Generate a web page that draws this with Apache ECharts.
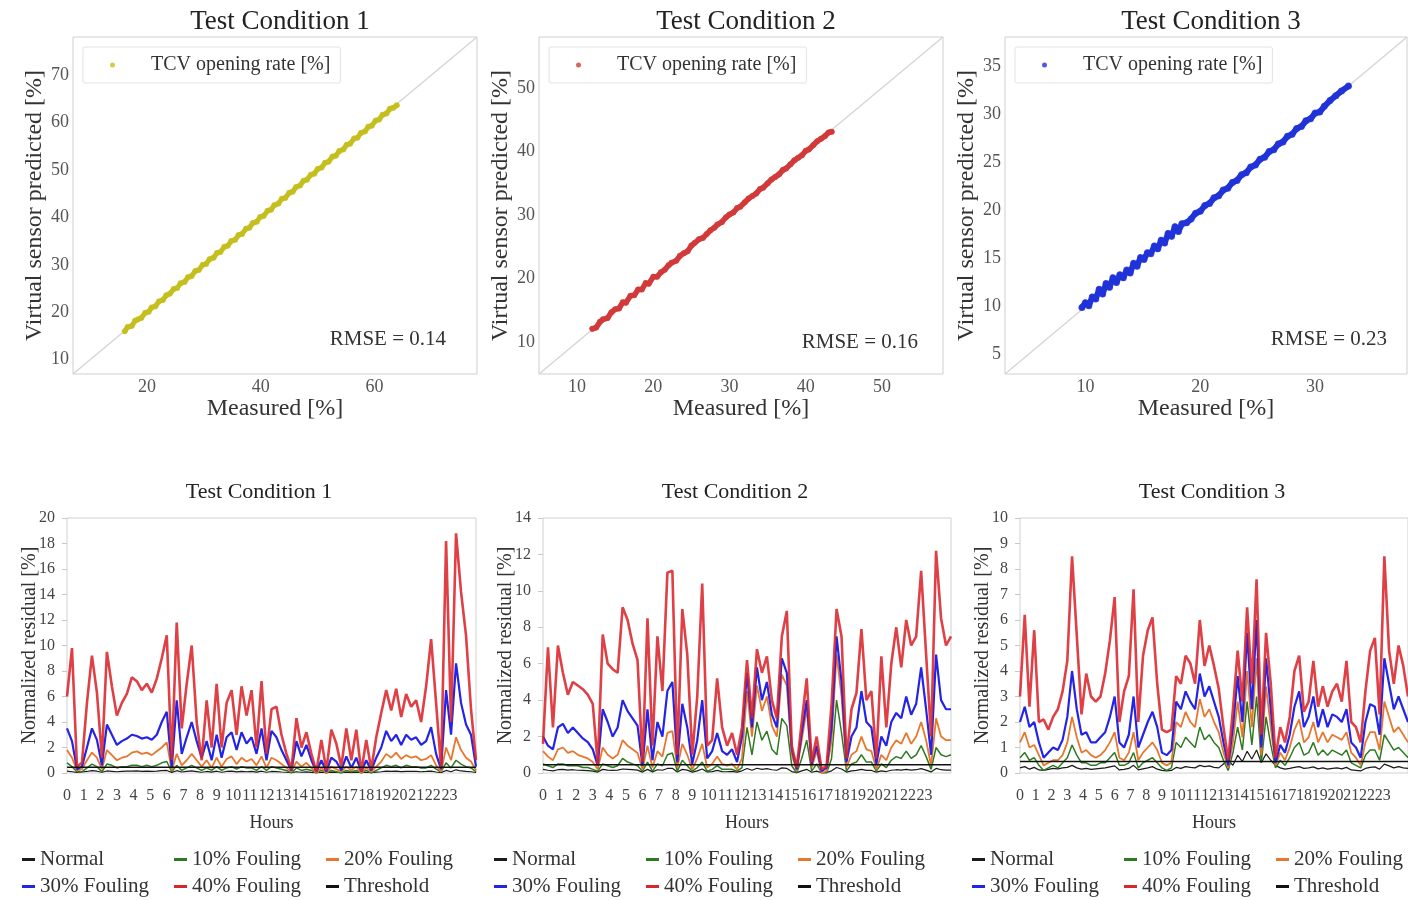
<!DOCTYPE html>
<html><head><meta charset="utf-8">
<script src="https://cdn.jsdelivr.net/npm/echarts@6/dist/echarts.min.js"></script>
<style>html,body{margin:0;padding:0;background:#fff}#c{width:1408px;height:900px}</style>
</head><body><div id="c"></div>
<script>
// ---------------- DATA ----------------
const panelTitles = ['Test Condition 1', 'Test Condition 2', 'Test Condition 3'];
const rmseTexts = ['RMSE = 0.14', 'RMSE = 0.16', 'RMSE = 0.23'];
const scatterLegendText = 'TCV opening rate [%]';

// Top row: measured vs predicted
const tc1Measured = [16.1,16.6,17.3,17.9,18.4,19.0,19.7,20.3,20.8,21.5,22.1,22.8,23.4,24.0,24.7,25.3,25.9,26.6,27.2,27.8,28.5,29.1,29.8,30.4,31.0,31.7,32.3,32.9,33.6,34.2,34.8,35.5,36.1,36.7,37.4,38.0,38.6,39.3,39.9,40.5,41.2,41.8,42.4,43.1,43.7,44.3,45.0,45.6,46.2,46.9,47.5,48.1,48.8,49.4,50.0,50.7,51.3,51.9,52.6,53.2,53.8,54.5,55.1,55.7,56.4,57.0,57.6,58.3,58.9,59.5,60.2,60.8,61.4,62.1,62.7,63.3,63.9];
const tc1Predicted = [16.0,16.9,17.1,18.2,18.5,18.8,19.9,20.1,21.0,21.3,22.3,22.6,23.6,23.9,24.9,25.1,26.1,26.4,27.4,27.6,28.7,28.9,30.0,30.2,31.2,31.5,32.5,32.7,33.8,34.0,35.0,35.3,36.3,36.5,37.6,37.8,38.8,39.1,40.1,40.3,41.4,41.6,42.6,42.9,43.9,44.1,45.2,45.4,46.4,46.7,47.7,47.9,49.0,49.2,50.2,50.5,51.5,51.7,52.8,53.0,54.0,54.3,55.3,55.5,56.6,56.8,57.8,58.1,59.1,59.3,60.4,60.6,61.6,61.9,62.9,63.1,63.6];
const tc2Measured = [12.0,12.5,13.0,13.4,14.0,14.5,15.0,15.5,16.0,16.4,17.0,17.5,18.0,18.5,19.0,19.4,20.0,20.5,21.0,21.5,22.0,22.4,23.0,23.5,24.0,24.5,25.0,25.4,26.0,26.5,27.0,27.5,28.0,28.4,29.0,29.5,30.0,30.5,31.0,31.4,32.0,32.5,33.0,33.5,34.0,34.4,35.0,35.5,36.0,36.5,37.0,37.4,38.0,38.5,39.0,39.5,40.0,40.4,41.0,41.5,42.0,42.5,43.0,43.4];
const tc2Predicted = [12.1,12.3,13.2,13.6,13.8,14.7,15.2,15.3,16.3,16.2,17.3,17.4,18.3,18.3,19.3,19.2,20.3,20.3,21.0,21.4,22.1,22.5,22.8,23.6,24.0,24.3,25.2,25.6,26.2,26.4,27.0,27.6,28.0,28.5,28.9,29.6,30.1,30.4,31.1,31.3,32.0,32.6,33.0,33.4,34.1,34.3,35.0,35.6,36.0,36.4,37.1,37.3,38.0,38.6,39.0,39.4,40.1,40.3,41.0,41.6,42.0,42.4,43.0,43.1];
const tc3Measured = [9.7,10.0,10.3,10.6,10.9,11.2,11.5,11.8,12.1,12.4,12.7,13.0,13.3,13.6,13.9,14.2,14.5,14.8,15.1,15.4,15.7,16.0,16.3,16.6,16.9,17.2,17.5,17.8,18.1,18.4,18.8,19.2,19.6,20.0,20.4,20.8,21.2,21.6,22.0,22.4,22.8,23.2,23.6,24.0,24.4,24.8,25.2,25.6,26.0,26.4,26.8,27.2,27.6,28.0,28.4,28.8,29.2,29.6,30.0,30.4,30.8,31.3,31.8,32.3,32.9];
const tc3Predicted = [9.9,10.4,10.1,11.0,10.8,11.8,11.3,12.4,12.0,13.0,12.5,13.3,13.0,13.8,13.5,14.5,14.2,15.1,14.9,15.6,15.5,16.3,16.0,16.9,16.6,17.6,17.3,18.3,17.8,18.6,18.7,19.1,19.7,19.9,20.5,20.7,21.3,21.5,22.1,22.3,22.9,23.1,23.7,23.9,24.5,24.7,25.3,25.5,26.1,26.3,26.9,27.1,27.7,27.9,28.5,28.7,29.3,29.5,30.1,30.2,30.8,31.4,31.9,32.4,32.9];

const topLimits = [[7, 78], [5, 58], [3, 38]];
const topXTicks = [[20, 40, 60], [10, 20, 30, 40, 50], [10, 20, 30]];
const topYTicks = [[10, 20, 30, 40, 50, 60, 70], [10, 20, 30, 40, 50], [5, 10, 15, 20, 25, 30, 35]];

// Bottom row: normalized residuals, one value every HOUR_STEP hours
const HOUR_STEP = 0.3;
const hourTicks = [0,1,2,3,4,5,6,7,8,9,10,11,12,13,14,15,16,17,18,19,20,21,22,23];
const hourMax = 24.6;
const residualMax = [20, 14, 10];
const residualInterval = [2, 2, 1];
const thresholdValue = 0.45;
const seriesNames = ['Normal', '10% Fouling', '20% Fouling', '30% Fouling', '40% Fouling', 'Threshold'];

const tc1Normal = [0.15,0.10,0.05,0.08,0.12,0.18,0.14,0.06,0.16,0.13, 0.10,0.12,0.14,0.15,0.16,0.13,0.15,0.12,0.14,0.18, 0.20,0.05,0.18,0.08,0.12,0.16,0.11,0.06,0.12,0.07, 0.14,0.06,0.12,0.14,0.09,0.13,0.10,0.12,0.07,0.14, 0.06,0.12,0.11,0.08,0.06,0.03,0.10,0.06,0.09,0.05, 0.02,0.06,0.02,0.07,0.05,0.02,0.07,0.03,0.07,0.02, 0.06,0.03,0.07,0.10,0.14,0.12,0.14,0.11,0.13,0.12, 0.13,0.10,0.12,0.15,0.08,0.03,0.20,0.10,0.25,0.16, 0.12,0.10,0.04];
const tc1Foul10 = [0.8,0.5,0.1,0.1,0.4,0.7,0.5,0.1,0.7,0.6, 0.4,0.5,0.5,0.6,0.6,0.5,0.6,0.5,0.6,0.8, 0.9,0.1,0.6,0.2,0.4,0.6,0.4,0.2,0.4,0.2, 0.5,0.2,0.4,0.5,0.3,0.5,0.4,0.4,0.2,0.5, 0.2,0.5,0.4,0.3,0.2,0.0,0.4,0.2,0.3,0.2, 0.0,0.2,0.0,0.2,0.1,0.0,0.2,0.1,0.2,0.0, 0.2,0.0,0.2,0.4,0.6,0.5,0.6,0.4,0.6,0.5, 0.5,0.4,0.4,0.6,0.3,0.1,0.8,0.4,1.0,0.7, 0.5,0.4,0.1];
const tc1Foul20 = [1.8,1.2,0.2,0.3,1.0,1.6,1.2,0.3,1.8,1.4, 1.0,1.2,1.3,1.6,1.7,1.5,1.6,1.4,1.7,2.0, 2.4,0.2,1.5,0.6,1.0,1.5,1.0,0.5,1.0,0.4, 1.2,0.5,1.1,1.3,0.7,1.2,0.9,1.1,0.6,1.3, 0.4,1.2,1.0,0.7,0.4,0.1,0.9,0.5,0.8,0.4, 0.0,0.4,0.0,0.5,0.3,0.1,0.5,0.2,0.5,0.0, 0.4,0.1,0.5,0.9,1.5,1.2,1.6,1.1,1.4,1.2, 1.3,1.0,1.1,1.4,0.6,0.1,2.0,1.0,2.8,1.8, 1.2,0.9,0.2];
const tc1Foul30 = [3.5,2.5,0.3,0.5,2.0,3.5,2.6,0.6,3.8,3.0, 2.2,2.5,2.7,3.0,2.9,2.7,2.8,2.6,3.0,4.0, 4.8,0.4,5.7,1.5,2.8,4.0,2.5,1.2,2.5,1.0, 3.0,1.2,2.8,3.2,1.8,3.2,2.3,2.8,1.5,3.5, 1.0,3.3,2.8,1.8,1.0,0.2,2.5,1.3,2.2,1.0, 0.1,1.0,0.1,1.2,0.9,0.2,1.3,0.4,1.2,0.1, 1.0,0.2,1.2,2.0,3.3,2.5,3.0,2.2,3.0,2.6, 2.8,2.2,2.5,3.6,1.5,0.3,6.5,3.0,8.6,5.5, 3.8,3.0,0.5];
const tc1Foul40 = [6.0,9.8,0.5,0.8,5.5,9.2,6.3,1.2,9.5,6.8, 4.5,5.5,6.2,7.5,7.2,6.5,7.0,6.3,7.4,9.0, 10.8,1.0,11.8,3.5,7.0,10.0,4.0,1.0,5.7,2.0, 7.0,2.0,5.5,6.5,3.0,6.8,4.5,6.5,2.0,7.2, 1.5,5.0,5.2,3.0,1.5,0.3,4.3,2.0,3.2,1.5, 0.1,2.6,0.2,3.4,2.3,0.5,3.5,1.0,3.4,0.1, 2.6,0.3,2.8,4.7,6.5,4.9,6.6,4.4,6.2,5.2, 5.7,4.0,6.8,10.5,5.5,0.4,18.2,4.0,18.8,14.2, 10.8,5.0,1.0];

const tc2Normal = [0.20,0.15,0.12,0.18,0.20,0.16,0.18,0.15,0.14,0.13, 0.10,0.05,0.20,0.16,0.14,0.16,0.22,0.20,0.18,0.16, 0.05,0.20,0.06,0.18,0.15,0.25,0.26,0.05,0.20,0.16, 0.05,0.12,0.22,0.06,0.08,0.14,0.08,0.07,0.09,0.05, 0.12,0.25,0.15,0.26,0.20,0.24,0.18,0.15,0.28,0.25, 0.08,0.02,0.12,0.20,0.04,0.10,0.02,0.03,0.12,0.30, 0.22,0.05,0.12,0.14,0.20,0.14,0.14,0.05,0.12,0.08, 0.15,0.18,0.16,0.20,0.16,0.18,0.24,0.16,0.06,0.25, 0.18,0.16,0.16];
const tc2Foul10 = [0.5,0.4,0.3,0.5,0.5,0.4,0.4,0.4,0.3,0.3, 0.2,0.1,0.5,0.4,0.3,0.4,0.8,0.6,0.5,0.4, 0.1,0.6,0.1,0.5,0.4,1.0,1.1,0.1,0.7,0.4, 0.1,0.3,0.6,0.1,0.2,0.4,0.2,0.2,0.2,0.1, 0.3,2.5,1.0,2.8,1.8,2.3,1.3,1.0,3.0,2.6, 0.4,0.0,0.8,1.8,0.1,0.5,0.0,0.0,0.8,4.0, 2.2,0.1,0.5,0.6,1.0,0.6,0.6,0.1,0.5,0.3, 0.7,0.9,0.8,1.2,0.8,1.0,1.5,0.9,0.2,1.4, 1.0,0.9,1.0];
const tc2Foul20 = [1.2,0.9,0.7,1.3,1.4,1.1,1.2,1.0,0.9,0.8, 0.6,0.2,1.4,1.0,0.8,1.0,1.8,1.5,1.3,1.1, 0.2,1.5,0.3,1.2,0.9,2.2,2.3,0.3,1.6,1.0, 0.2,0.8,1.6,0.3,0.5,0.9,0.5,0.4,0.5,0.2, 0.8,4.5,2.0,4.8,3.4,4.2,2.6,2.0,5.4,4.8, 1.0,0.1,1.8,3.5,0.3,1.2,0.0,0.1,1.8,6.5, 4.2,0.3,1.0,1.2,2.0,1.3,1.2,0.2,1.0,0.7, 1.4,1.8,1.6,2.2,1.6,2.0,2.8,1.8,0.4,3.0, 2.0,1.8,1.8];
const tc2Foul30 = [2.0,1.5,1.3,2.5,2.7,2.2,2.5,2.2,1.9,1.7, 1.3,0.4,3.5,2.8,2.0,2.5,4.0,3.4,3.0,2.6, 0.4,3.5,0.7,2.8,2.0,4.5,5.0,0.6,3.8,2.5, 0.5,1.8,4.0,0.8,1.2,2.2,1.2,1.0,1.3,0.6, 2.0,5.5,2.5,5.8,4.0,5.0,3.2,2.5,6.3,5.5, 1.3,0.2,2.2,4.0,0.5,1.5,0.1,0.3,2.5,7.5, 5.0,0.6,2.0,2.5,4.5,2.8,2.5,0.5,2.0,1.5, 2.8,3.3,3.0,4.2,3.2,3.8,5.8,3.5,1.0,6.5, 4.0,3.5,3.5];
const tc2Foul40 = [1.6,6.9,2.5,7.0,5.5,4.3,5.0,4.8,4.6,4.3, 3.8,0.5,7.6,6.0,5.7,5.5,9.1,8.4,7.1,6.2, 0.6,8.5,1.5,7.5,4.5,11.0,11.1,1.0,9.0,6.5, 1.0,4.2,10.4,1.5,1.8,5.2,2.5,1.5,2.2,1.0, 2.5,6.2,3.0,6.8,5.5,6.4,4.0,3.0,7.5,8.9, 1.5,0.3,2.8,5.2,0.6,2.0,0.2,0.4,3.8,9.0, 7.5,0.8,3.5,4.4,7.9,4.0,4.5,0.8,6.4,2.5, 6.0,8.0,5.8,8.4,7.0,7.5,11.1,6.5,2.0,12.2, 8.5,7.0,7.5];

const tc3Normal = [0.20,0.25,0.15,0.22,0.12,0.10,0.14,0.18,0.16,0.20, 0.22,0.30,0.20,0.15,0.18,0.14,0.16,0.18,0.20,0.24, 0.28,0.12,0.14,0.18,0.30,0.12,0.16,0.20,0.25,0.15, 0.10,0.08,0.10,0.22,0.18,0.25,0.22,0.20,0.30,0.25, 0.28,0.22,0.20,0.35,0.50,0.30,0.70,0.45,0.85,0.55, 0.90,0.40,0.75,0.50,0.30,0.20,0.15,0.18,0.22,0.25, 0.18,0.20,0.24,0.16,0.20,0.15,0.18,0.20,0.16,0.22, 0.12,0.10,0.08,0.18,0.22,0.24,0.15,0.35,0.28,0.20, 0.25,0.20,0.18];
const tc3Foul10 = [0.6,0.8,0.5,0.6,0.3,0.1,0.2,0.3,0.2,0.4, 0.6,1.1,0.7,0.4,0.4,0.3,0.3,0.4,0.4,0.6, 0.8,0.3,0.3,0.4,0.8,0.2,0.4,0.5,0.6,0.4, 0.2,0.1,0.2,1.2,1.0,1.4,1.2,1.0,1.8,1.3, 1.5,1.2,1.0,0.5,0.1,0.8,1.8,0.9,2.8,1.1, 3.0,0.4,2.2,1.1,0.2,0.5,0.3,0.6,1.0,1.2, 0.7,0.8,1.2,0.7,0.9,0.7,0.9,0.8,0.7,0.9, 0.4,0.3,0.2,0.7,0.9,0.9,0.5,1.5,1.2,0.9, 1.0,0.8,0.6];
const tc3Foul20 = [1.2,1.6,1.0,1.1,0.7,0.3,0.4,0.5,0.5,0.7, 1.2,2.2,1.4,0.8,0.9,0.7,0.6,0.7,0.9,1.2, 1.6,0.6,0.5,0.8,1.6,0.5,0.8,1.0,1.2,0.9, 0.4,0.3,0.4,2.0,1.8,2.4,2.0,1.8,2.9,2.2, 2.5,2.0,1.6,0.8,0.2,1.2,2.8,1.4,4.0,1.8, 4.5,0.7,3.4,1.8,0.3,0.8,0.5,1.0,1.7,2.1, 1.2,1.4,2.0,1.2,1.6,1.2,1.5,1.4,1.3,1.6, 0.8,0.6,0.3,1.2,1.6,1.6,0.9,2.8,2.2,1.6, 1.8,1.5,1.2];
const tc3Foul30 = [2.0,2.6,1.8,2.0,1.2,0.6,0.8,1.0,0.9,1.3, 2.2,4.0,2.5,1.5,1.6,1.2,1.2,1.4,1.6,2.2, 3.0,1.2,1.0,1.5,3.0,1.0,1.5,2.0,2.4,1.8, 0.8,0.7,0.9,2.8,2.5,3.2,2.8,2.5,3.9,3.0, 3.4,2.8,2.2,1.2,0.3,1.8,3.8,2.0,5.5,2.5, 6.0,1.0,4.5,2.5,0.4,1.1,0.8,1.5,2.6,3.2, 1.8,2.2,3.0,1.8,2.5,1.8,2.3,2.2,2.0,2.5, 1.2,1.0,0.6,2.0,2.7,2.6,1.5,4.5,3.5,2.5, 3.0,2.5,2.0];
const tc3Foul40 = [3.0,6.2,2.6,5.6,2.0,2.1,1.7,2.2,2.5,3.2, 4.4,8.5,5.4,2.3,3.9,3.0,2.8,3.0,3.9,5.2, 6.9,2.0,3.2,3.8,7.2,2.0,4.6,5.6,6.1,3.5, 1.7,1.6,1.7,3.8,3.5,4.6,4.3,3.5,6.0,4.2, 5.0,4.2,3.3,1.8,0.5,2.5,4.8,2.8,6.5,3.5, 7.6,1.5,5.5,3.5,0.6,1.8,1.2,2.2,4.0,4.6, 2.4,2.8,4.4,2.6,3.4,2.6,3.2,3.5,2.8,4.4, 2.0,1.8,1.2,3.2,4.8,5.3,2.3,8.5,4.8,3.5, 5.0,4.2,3.0];

// ---------------- BUILD ----------------
const FONT = "'Liberation Serif', 'Times New Roman', serif";
const scatterColors = ['#c4bf1f', '#d23b3b', '#1f33d8'];
const scatterSizes = [6, 6, 7];
const bandWidths = [5, 5.5, 6];
const lineColors = ['#1a1a1a', '#2e7a22', '#e8772e', '#2424e6', '#d9262b', '#111111'];
const lineWidths = [1.2, 1.5, 1.8, 2.2, 2.6, 1.6];

const topData = [[tc1Measured, tc1Predicted], [tc2Measured, tc2Predicted], [tc3Measured, tc3Predicted]];
const bottomData = [
  [tc1Normal, tc1Foul10, tc1Foul20, tc1Foul30, tc1Foul40],
  [tc2Normal, tc2Foul10, tc2Foul20, tc2Foul30, tc2Foul40],
  [tc3Normal, tc3Foul10, tc3Foul20, tc3Foul30, tc3Foul40]
];

const topGrids = [
  {left: 73, top: 37, width: 404, height: 337},
  {left: 539, top: 37, width: 404, height: 337},
  {left: 1005, top: 37, width: 402, height: 337}
];
const botGrids = [
  {left: 67, top: 518, width: 409, height: 255},
  {left: 543, top: 518, width: 408, height: 255},
  {left: 1020, top: 518, width: 409, height: 255}
];
const topLegendPos = [83, 549, 1015];
const rmsePos = [[446, 339], [918, 342], [1387, 339]];
const botTitleX = [254, 730, 1207];
const botLegendX = [22, 494, 972];

const grid = [], xAxis = [], yAxis = [], series = [], title = [], legend = [], graphic = [];

for (let p = 0; p < 3; p++) {
  const g = topGrids[p];
  grid.push(Object.assign({show: true, borderColor: '#cfcfcf', borderWidth: 1, backgroundColor: '#fff'}, g));
  const lim = topLimits[p];
  xAxis.push({
    gridIndex: p, type: 'value', min: lim[0], max: lim[1],
    axisLine: {show: false}, axisTick: {show: false}, splitLine: {show: false},
    axisLabel: {customValues: topXTicks[p], color: '#555', fontFamily: FONT, fontSize: 18, margin: 4},
    name: 'Measured [%]', nameLocation: 'middle', nameGap: 22,
    nameTextStyle: {fontFamily: FONT, fontSize: 24, color: '#333'}
  });
  yAxis.push({
    gridIndex: p, type: 'value', min: lim[0], max: lim[1],
    axisLine: {show: false}, axisTick: {show: false}, splitLine: {show: false},
    axisLabel: {customValues: topYTicks[p], color: '#555', fontFamily: FONT, fontSize: 18, margin: 4},
    name: 'Virtual sensor predicted [%]', nameLocation: 'middle', nameGap: 26,
    nameTextStyle: {fontFamily: FONT, fontSize: 24, color: '#333'}
  });
  series.push({
    name: 'diag' + p, type: 'line', xAxisIndex: p, yAxisIndex: p, silent: true,
    symbol: 'none', data: [[lim[0], lim[0]], [lim[1], lim[1]]],
    lineStyle: {color: '#d6d6d6', width: 1.5}, z: 1
  });
  const meas = topData[p][0], pred = topData[p][1];
  const pts = meas.map((m, i) => [m, pred[i]]);
  // dense point cloud: the sampled points joined into a band, plus the points themselves
  series.push({
    name: 'band' + p, type: 'line', xAxisIndex: p, yAxisIndex: p, silent: true,
    symbol: 'none', data: pts,
    lineStyle: {color: scatterColors[p], width: bandWidths[p], cap: 'round', join: 'round'}, z: 2
  });
  series.push({
    name: 'tc' + p, type: 'scatter', xAxisIndex: p, yAxisIndex: p,
    symbol: 'circle', symbolSize: scatterSizes[p],
    data: pts,
    itemStyle: {color: scatterColors[p]}, z: 3
  });
  title.push({
    text: panelTitles[p], left: g.left + g.width / 2, top: 3, textAlign: 'center',
    textStyle: {fontFamily: FONT, fontSize: 27, fontWeight: 'normal', color: '#222'}
  });
  legend.push({
    data: [{name: 'tc' + p, icon: 'circle'}], formatter: () => scatterLegendText,
    left: topLegendPos[p], top: 47, itemWidth: 5, itemHeight: 5,
    padding: [8, 10, 8, 27], borderColor: '#e2e2e2', borderWidth: 1, borderRadius: 2,
    selectedMode: false,
    textStyle: {fontFamily: FONT, fontSize: 20, color: '#333', padding: [0, 0, 0, 31]}
  });
  graphic.push({
    type: 'text', x: rmsePos[p][0], y: rmsePos[p][1], silent: true,
    style: {text: rmseTexts[p], fontFamily: FONT, fontSize: 21, fill: '#333', textAlign: 'right', textVerticalAlign: 'middle'}
  });
}

const hourLabelStyle = {color: '#444', fontFamily: FONT, fontSize: 16, margin: 15};
const evenHours = hourTicks.filter((h, i) => i % 2 === 0);
const oddHours = hourTicks.filter((h, i) => i % 2 === 1);
for (let p = 0; p < 3; p++) {
  const gi = p + 3;
  const g = botGrids[p];
  grid.push(Object.assign({show: true, borderColor: '#d0d0d0', borderWidth: 1, backgroundColor: '#fff'}, g));
  // the last panel runs past the page edge: its hour labels are split over two axes (even / odd)
  const mainTicks = p === 2 ? evenHours : hourTicks;
  xAxis.push({
    gridIndex: gi, type: 'value', min: 0, max: hourMax,
    axisLine: {show: false}, axisTick: {show: false}, splitLine: {show: false},
    axisLabel: Object.assign({customValues: mainTicks, showMaxLabel: true, showMinLabel: true}, hourLabelStyle),
    name: 'Hours', nameLocation: 'middle', nameGap: 41,
    nameTextStyle: {fontFamily: FONT, fontSize: 18, color: '#333'}
  });
  yAxis.push({
    gridIndex: gi, type: 'value', min: 0, max: residualMax[p], interval: residualInterval[p],
    axisLine: {show: false}, axisTick: {show: true, length: 5, lineStyle: {color: '#c8c8c8'}}, splitLine: {show: false},
    axisLabel: {color: '#444', fontFamily: FONT, fontSize: 16, margin: 12},
    name: 'Normalized residual [%]', nameLocation: 'middle', nameGap: 27, nameMoveOverlap: false,
    nameTextStyle: {fontFamily: FONT, fontSize: 20, color: '#333'}
  });
  const arrs = bottomData[p];
  for (let s = 0; s < 5; s++) {
    series.push({
      name: seriesNames[s], type: 'line', xAxisIndex: gi, yAxisIndex: gi,
      symbol: 'none', smooth: false,
      data: arrs[s].map((v, i) => [+(i * HOUR_STEP).toFixed(2), v]),
      lineStyle: {color: lineColors[s], width: lineWidths[s], opacity: s === 4 ? 0.88 : 1},
      itemStyle: {color: lineColors[s]}, z: 2 + s
    });
  }
  series.push({
    name: seriesNames[5], type: 'line', xAxisIndex: gi, yAxisIndex: gi,
    symbol: 'none', data: [[0, thresholdValue], [hourMax, thresholdValue]],
    lineStyle: {color: lineColors[5], width: lineWidths[5]}, itemStyle: {color: lineColors[5]}, z: 9
  });
  title.push({
    text: panelTitles[p], left: botTitleX[p], top: 476, textAlign: 'center',
    textStyle: {fontFamily: FONT, fontSize: 22, fontWeight: 'normal', color: '#222'}
  });
  legend.push({
    data: seriesNames.slice(), left: botLegendX[p], top: 846, width: 470, padding: 0,
    itemGap: 0, itemWidth: 13, itemHeight: 3, icon: 'rect', selectedMode: false,
    textStyle: {fontFamily: FONT, fontSize: 21, color: '#333', width: 134, lineHeight: 27, overflow: 'none'}
  });
}
// companion axis carrying the odd hour labels of panel 3
xAxis.push({
  gridIndex: 5, type: 'value', min: 0, max: hourMax, position: 'bottom',
  axisLine: {show: false}, axisTick: {show: false}, splitLine: {show: false},
  axisLabel: Object.assign({customValues: oddHours, showMaxLabel: true, showMinLabel: true}, hourLabelStyle)
});

const chart = echarts.init(document.getElementById('c'), null, {renderer: 'canvas'});
chart.setOption({
  animation: false, backgroundColor: '#fff',
  title, legend, grid, xAxis, yAxis, series, graphic
});
</script>
</body></html>
